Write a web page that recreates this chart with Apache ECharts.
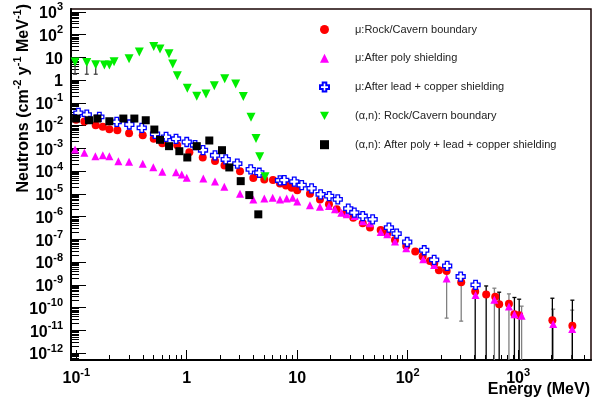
<!DOCTYPE html>
<html><head><meta charset="utf-8">
<script src="https://cdn.jsdelivr.net/npm/echarts@6/dist/echarts.min.js"></script>
<style>html,body{margin:0;padding:0;background:#fff}#c{width:605px;height:402px}</style>
</head><body><div id="c"></div>
<script>
const FONT = "'Liberation Sans', Arial, Helvetica, sans-serif";

// ---- data (Energy in MeV, flux in neutrons cm^-2 y^-1 MeV^-1) ----
const muRockE = [0.0996,0.1184,0.150,0.1738,0.1993,0.2355,0.3006,0.3998,0.5027,0.6013,0.82,1.056,1.396,1.804,2.198,3.036,4.005,5.038,6.04,6.99,7.92,8.92,10.02,13.05,16.08,19.4,22.8,27.5,32.2,39.2,45.6,57,65.4,76.8,97.1,117.2,136.7,159.2,174.1,192,225.4,305.5,409,514,621,674,826,926,1023,2043,3100];
const muRockV = [0.0178,0.01496,0.0103,0.00877,0.00689,0.00622,0.00459,0.00376,0.00261,0.00167,0.00137,6.75e-4,3.95e-4,2.77e-4,1.76e-4,9.9e-5,4.98e-5,4.28e-5,4.07e-5,2.86e-5,2.34e-5,1.85e-5,1.45e-5,1.01e-5,5.68e-6,3.43e-6,2.07e-6,1.38e-6,8.95e-7,5.03e-7,3.26e-7,2.56e-7,1.78e-7,9.33e-8,5.08e-8,2.89e-8,1.74e-8,1.12e-8,8.6e-9,4.37e-9,4.07e-9,1.3e-9,5.08e-10,3.76e-10,2.95e-10,1.41e-10,1.48e-10,5.13e-11,4.64e-11,2.8e-11,1.58e-11];

const muPolyE = [0.0975,0.1184,0.149,0.1738,0.1993,0.2405,0.3006,0.3998,0.4986,0.6013,0.8,0.901,1.0,1.413,1.804,2.19,3.036,4.005,5.038,6.0,6.99,8.03,9.1,10.02,13.05,16.08,19.4,22,25.1,28.1,33.1,39.3,45.6,57,65.4,76.8,97.1,138.4,173.8,225.4,412,610,826,926,1076,2078,3090];
const muPolyV = [8.85e-4,6.35e-4,4.5e-4,4.98e-4,4.5e-4,2.72e-4,2.56e-4,2.09e-4,1.48e-4,9.33e-5,8.95e-5,7.1e-5,5.08e-5,4.73e-5,3.5e-5,2.05e-5,1.01e-5,5.68e-6,6.29e-6,6.75e-6,5.68e-6,6.29e-6,6.75e-6,4.64e-6,3.1e-6,2.72e-6,2.89e-6,2.07e-6,1.48e-6,1.25e-6,1.05e-6,6.17e-7,5.03e-7,2.09e-7,1.66e-7,7.94e-8,4.03e-8,1.33e-8,7.46e-9,1.89e-9,3.6e-10,2.22e-10,1.1e-10,5.13e-11,4.32e-11,1.87e-11,1.13e-11];

const muLeadE = [0.1045,0.1245,0.1618,0.2325,0.3023,0.3915,0.5166,0.65,0.8,1.0,1.189,1.404,1.804,2.254,2.87,3.795,4.54,6.99,7.64,9.41,10.98,13.5,16.3,19.5,23.3,29,32.9,39.2,48.2,67.7,79.5,99.1,141.3,173.8,228,302,412];
const muLeadV = [0.0361,0.0303,0.0241,0.0145,0.0111,0.00793,0.00432,0.00319,0.00261,0.00189,0.00137,8.26e-4,4.93e-4,3.23e-4,2.11e-4,1.18e-4,8.42e-5,3.87e-5,3.98e-5,3.4e-5,2.41e-5,1.73e-5,9.42e-6,7.93e-6,5.68e-6,2.22e-6,1.48e-6,1.05e-6,7.54e-7,3.26e-7,1.78e-7,7.62e-8,3.3e-8,1.24e-8,6.75e-9,2.31e-9,9.9e-10];

const anRockE = [0.0975,0.1245,0.150,0.1796,0.1993,0.2198,0.3006,0.3724,0.5027,0.5731,0.6915,0.747,0.822,1.012,1.232,1.495,1.777,2.208,2.776,3.252,3.818,4.238,4.578,5.112];
const anRockV = [6.22,5.97,4.73,4.6,4.6,6.41,8.68,17.1,30.1,23.1,14.4,5.08,1.56,0.432,0.193,0.245,0.568,1.15,0.675,0.187,0.0229,0.00269,4.27e-4,5.6e-5];

const anShieldE = [0.0996,0.1305,0.1552,0.1993,0.2668,0.3356,0.4256,0.509,0.5731,0.6915,0.857,1.012,1.232,1.601,2.086,2.429,3.082,3.686,4.446];
const anShieldV = [0.0203,0.0171,0.0203,0.01545,0.0203,0.0203,0.0171,0.00668,0.00236,0.00124,7.46e-4,3.95e-4,0.00124,0.0022,8.26e-4,1.44e-4,3.6e-5,8.77e-6,1.25e-6];

// error bars: [energy, low, high]
const errBlack = [[409,1e-13,8.9e-10],[514,1e-13,8.9e-10],[674,1e-13,4.73e-10],[926,1e-13,2.77e-10],[1023,1e-13,2.33e-10],[2043,1e-13,2.57e-10],[3100,1e-13,2.11e-10]];
const errGray = [[225.4,3.43e-11,7.24e-9],[305.5,2.53e-11,2.64e-9],[610,1e-13,7.1e-10],[826,1e-13,3.99e-10],[1076,1e-13,1.15e-10],[2078,1e-13,8.5e-11],[3090,1e-13,7.7e-11]];
const errGreen = [[0.0975,1.8,7.8],[0.1245,1.8,7.5],[0.150,1.8,6.0]];

const seriesNames = ['\u03bc:Rock/Cavern boundary','\u03bc:After poly shielding','\u03bc:After lead + copper shielding','(\u03b1,n): Rock/Cavern boundary','(\u03b1,n): After poly + lead + copper shielding'];

// axis ranges and tick labels
const xRange = [0.0896, 4571];
const yRange = [4.95e-13, 1.327e3];
const xTickValues = [0.1, 1, 10, 100, 1000];
const yTickValues = [1e-12,1e-11,1e-10,1e-9,1e-8,1e-7,1e-6,1e-5,1e-4,1e-3,1e-2,1e-1,1,10,100,1000];

const L = Math.log10;
function minorTicks(range) {
  const out = [];
  for (let n = -14; n <= 4; n++) for (let k = 2; k <= 9; k++) {
    const v = k * Math.pow(10, n);
    if (v > range[0] && v < range[1]) out.push(L(v));
  }
  return out;
}
function powLabel(v) {
  const e = Math.round(v);
  if (e === 0) return '{b|1}';
  if (e === 1) return '{b|10}';
  return '{b|10}{s|' + e + '}';
}
const rich = {
  b: {fontSize: 16, fontWeight: 'bold', fontFamily: FONT, color: '#000', lineHeight: 20, verticalAlign: 'bottom'},
  s: {fontSize: 11, fontWeight: 'bold', fontFamily: FONT, color: '#000', lineHeight: 20, verticalAlign: 'top'}
};
const pairs = (E, V) => E.map((e, i) => [e, V[i]]);

function errItem(params, api) {
  const x = api.value(0);
  const lo = api.coord([x, api.value(1)]);
  const hi = api.coord([x, api.value(2)]);
  const c = api.visual('color');
  const st = {stroke: c, lineWidth: 1.3};
  const w = 2;
  return {type: 'group', children: [
    {type: 'line', shape: {x1: lo[0], y1: lo[1], x2: hi[0], y2: hi[1]}, style: st},
    {type: 'line', shape: {x1: lo[0]-w, y1: lo[1], x2: lo[0]+w, y2: lo[1]}, style: st},
    {type: 'line', shape: {x1: hi[0]-w, y1: hi[1], x2: hi[0]+w, y2: hi[1]}, style: st}
  ]};
}
const errSeries = (data, color) => ({
  type: 'custom', renderItem: errItem, data: data, clip: true, silent: true,
  encode: {x: 0, y: [1, 2]}, itemStyle: {color: color}, z: 1
});

const crossPath = 'path://M3,0 L7,0 L7,3 L10,3 L10,7 L7,7 L7,10 L3,10 L3,7 L0,7 L0,3 L3,3 Z';
const downTriPath = 'path://M0,0 L10,0 L5,9 Z';

const hiddenAxis = {show: true, axisLine: {show: false}, axisTick: {show: false}, axisLabel: {show: false}, splitLine: {show: false}};

const chart = echarts.init(document.getElementById('c'), null, {renderer: 'canvas'});
chart.setOption({
  animation: false,
  backgroundColor: '#fff',
  grid: {left: 71, right: 14, top: 9, bottom: 42, show: true, borderColor: '#1a0505', borderWidth: 1.5, backgroundColor: 'transparent'},
  legend: {
    data: seriesNames.map((n, i) => i === 3 ? {name: n, icon: downTriPath} : {name: n}),
    orient: 'vertical', left: 314, top: 17.5, itemWidth: 9, itemHeight: 9, itemGap: 14.8,
    textStyle: {fontSize: 11, fontFamily: FONT, color: '#222', lineHeight: 14, padding: [0, 0, 0, 21]}
  },
  xAxis: [
    Object.assign({type: 'log', min: xRange[0], max: xRange[1], position: 'bottom'}, hiddenAxis),
    {type: 'value', min: L(xRange[0]), max: L(xRange[1]), position: 'bottom',
     axisLine: {show: true, onZero: false, lineStyle: {color: '#000', width: 2}},
     axisTick: {show: true, inside: true, length: 10, customValues: xTickValues.map(L), lineStyle: {color: '#000', width: 1}},
     axisLabel: {show: true, customValues: xTickValues.map(L), formatter: powLabel, rich: rich, margin: 7},
     splitLine: {show: false}},
    {type: 'value', min: L(xRange[0]), max: L(xRange[1]), position: 'bottom',
     axisLine: {show: false, onZero: false},
     axisTick: {show: true, inside: true, length: 5, customValues: minorTicks(xRange), lineStyle: {color: '#000', width: 1}},
     axisLabel: {show: false}, splitLine: {show: false}}
  ],
  yAxis: [
    Object.assign({type: 'log', min: yRange[0], max: yRange[1], position: 'left'}, hiddenAxis),
    {type: 'value', min: L(yRange[0]), max: L(yRange[1]), position: 'left',
     axisLine: {show: true, onZero: false, lineStyle: {color: '#000', width: 2}},
     axisTick: {show: true, inside: true, length: 15, customValues: yTickValues.map(L), lineStyle: {color: '#000', width: 1}},
     axisLabel: {show: true, customValues: yTickValues.map(L), formatter: powLabel, rich: rich, margin: 8},
     splitLine: {show: false}},
    {type: 'value', min: L(yRange[0]), max: L(yRange[1]), position: 'left',
     axisLine: {show: false, onZero: false},
     axisTick: {show: true, inside: true, length: 8, customValues: minorTicks(yRange), lineStyle: {color: '#000', width: 1}},
     axisLabel: {show: false}, splitLine: {show: false}}
  ],
  graphic: [
    {type: 'text', right: 15, top: 382, style: {text: 'Energy (MeV)', font: 'bold 16px ' + FONT, fill: '#000'}},
    {type: 'text', x: 22, y: 4, rotation: Math.PI / 2,
     style: {text: '{b|Neutrons (cm}{s|-2}{b| y}{s|-1}{b| MeV}{s|-1}{b|)}', rich: rich, align: 'right', verticalAlign: 'middle'}}
  ],
  series: [
    errSeries(errGreen, '#444'),
    errSeries(errGray, '#808080'),
    errSeries(errBlack, '#000'),
    {name: seriesNames[0], type: 'scatter', data: pairs(muRockE, muRockV), symbol: 'circle', symbolSize: 8,
     itemStyle: {color: '#ff0000', opacity: 1}, z: 2},
    {name: seriesNames[1], type: 'scatter', data: pairs(muPolyE, muPolyV), symbol: 'triangle', symbolSize: 8,
     itemStyle: {color: '#ff00ff', opacity: 1}, z: 3},
    {name: seriesNames[2], type: 'scatter', data: pairs(muLeadE, muLeadV), symbol: crossPath, symbolSize: 9,
     itemStyle: {color: '#ffffff', borderColor: '#0000ff', borderWidth: 1.3, opacity: 1}, z: 4},
    {name: seriesNames[3], type: 'scatter', data: pairs(anRockE, anRockV), symbol: 'triangle', symbolRotate: 180, symbolSize: 9,
     itemStyle: {color: '#00ee00', opacity: 1}, z: 5},
    {name: seriesNames[4], type: 'scatter', data: pairs(anShieldE, anShieldV), symbol: 'rect', symbolSize: 8,
     itemStyle: {color: '#000000', opacity: 1}, z: 6}
  ]
});
</script></body></html>
